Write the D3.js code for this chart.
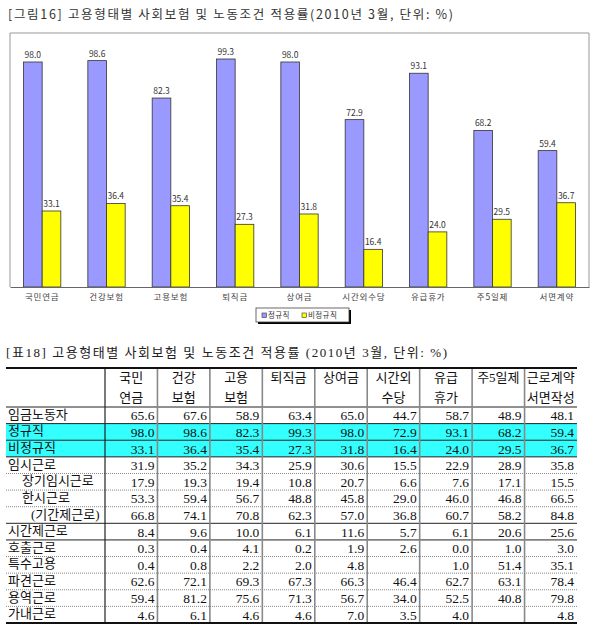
<!DOCTYPE html>
<html>
<head>
<meta charset="utf-8">
<script src="https://cdn.jsdelivr.net/npm/d3@7"></script>
<style>
  body { margin: 0; background: #fff; }
  svg { display: block; }
  .serif { font-family: "Liberation Serif", "Noto Sans CJK KR", serif; }
  .sans { font-family: "Noto Sans CJK KR", "DejaVu Sans", sans-serif; }
</style>
</head>
<body>
<script>
// chart data
var categories = ["국민연금", "건강보험", "고용보험", "퇴직금", "상여금", "시간외수당", "유급휴가", "주5일제", "서면계약"];
var regular    = [98.0, 98.6, 82.3, 99.3, 98.0, 72.9, 93.1, 68.2, 59.4];
var nonRegular = [33.1, 36.4, 35.4, 27.3, 31.8, 16.4, 24.0, 29.5, 36.7];
var seriesNames = ["정규직", "비정규직"];

// table data
var colHeads = [["국민", "연금"], ["건강", "보험"], ["고용", "보험"], ["퇴직금", ""], ["상여금", ""],
                ["시간외", "수당"], ["유급", "휴가"], ["주5일제", ""], ["근로계약", "서면작성"]];
var rowLabels = ["임금노동자", "정규직", "비정규직", "임시근로", "장기임시근로", "한시근로", "(기간제근로)",
                 "시간제근로", "호출근로", "특수고용", "파견근로", "용역근로", "가내근로"];
var rowIndent = [0, 0, 0, 0, 1, 1, 2, 0, 0, 0, 0, 0, 0];
var rowValues = [
  [65.6, 67.6, 58.9, 63.4, 65.0, 44.7, 58.7, 48.9, 48.1],
  [98.0, 98.6, 82.3, 99.3, 98.0, 72.9, 93.1, 68.2, 59.4],
  [33.1, 36.4, 35.4, 27.3, 31.8, 16.4, 24.0, 29.5, 36.7],
  [31.9, 35.2, 34.3, 25.9, 30.6, 15.5, 22.9, 28.9, 35.8],
  [17.9, 19.3, 19.4, 10.8, 20.7, 6.6, 7.6, 17.1, 15.5],
  [53.3, 59.4, 56.7, 48.8, 45.8, 29.0, 46.0, 46.8, 66.5],
  [66.8, 74.1, 70.8, 62.3, 57.0, 36.8, 60.7, 58.2, 84.8],
  [8.4, 9.6, 10.0, 6.1, 11.6, 5.7, 6.1, 20.6, 25.6],
  [0.3, 0.4, 4.1, 0.2, 1.9, 2.6, 0.0, 1.0, 3.0],
  [0.4, 0.8, 2.2, 2.0, 4.8, null, 1.0, 51.4, 35.1],
  [62.6, 72.1, 69.3, 67.3, 66.3, 46.4, 62.7, 63.1, 78.4],
  [59.4, 81.2, 75.6, 71.3, 56.7, 34.0, 52.5, 40.8, 79.8],
  [4.6, 6.1, 4.6, 4.6, 7.0, 3.5, 4.0, null, 4.8]
];
var highlightRows = [1, 2];
// line under each row: s = solid, d = dotted
var rowRule = ["s", "s", "s", "d", "d", "d", "s", "s", "d", "d", "d", "d", "s"];

var svg = d3.select("body").append("svg")
    .attr("width", 598)
    .attr("height", 642);

// ---------------- chart ----------------
svg.append("text")
    .attr("class", "sans")
    .attr("x", 8).attr("y", 19)
    .attr("font-size", 12.5)
    .attr("fill", "#333")
    .attr("textLength", 445)
    .attr("lengthAdjust", "spacing")
    .text("[그림16] 고용형태별 사회보험 및 노동조건 적용률(2010년 3월, 단위: %)");

var plot = {left: 10, right: 589, top: 33, bottom: 287};

var x0 = d3.scaleBand()
    .domain(categories)
    .range([plot.left, plot.right])
    .paddingInner(0.42)
    .paddingOuter(0.21);
var x1 = d3.scaleBand()
    .domain(seriesNames)
    .range([0, x0.bandwidth()]);
var y = d3.scaleLinear().domain([0, 100]).range([plot.bottom, 57.4]);
var colour = d3.scaleOrdinal().domain(seriesNames).range(["#9999ff", "#ffff00"]);

// plot frame (left, top, right)
svg.append("path")
    .attr("d", "M" + plot.left + "," + plot.bottom + "V" + plot.top + "H" + plot.right + "V" + plot.bottom)
    .attr("fill", "none")
    .attr("stroke", "#999")
    .attr("stroke-width", 1);

var groups = svg.selectAll(".cat")
    .data(categories.map(function(c, i) { return {cat: c, vals: [regular[i], nonRegular[i]]}; }))
    .enter().append("g")
      .attr("class", "cat")
      .attr("transform", function(d) { return "translate(" + x0(d.cat) + ",0)"; });

groups.selectAll("rect")
    .data(function(d) { return d.vals.map(function(v, j) { return {s: seriesNames[j], v: v}; }); })
    .enter().append("rect")
      .attr("x", function(d) { return x1(d.s); })
      .attr("y", function(d) { return y(d.v); })
      .attr("width", x1.bandwidth())
      .attr("height", function(d) { return plot.bottom - y(d.v); })
      .attr("fill", function(d) { return colour(d.s); })
      .attr("stroke", "#333")
      .attr("stroke-width", 0.8);

groups.selectAll(".val")
    .data(function(d) { return d.vals.map(function(v, j) { return {s: seriesNames[j], v: v}; }); })
    .enter().append("text")
      .attr("class", "val sans")
      .attr("x", function(d) { return x1(d.s) + x1.bandwidth() / 2; })
      .attr("y", function(d) { return y(d.v) - 4; })
      .attr("text-anchor", "middle")
      .attr("font-size", 8.5)
      .attr("fill", "#333")
      .text(function(d) { return d3.format(".1f")(d.v); });

// baseline + category labels
var xAxis = svg.append("g")
    .attr("transform", "translate(0," + plot.bottom + ")")
    .call(d3.axisBottom(x0).tickSize(0).tickPadding(7));
xAxis.select(".domain").attr("stroke", "#666").attr("stroke-width", 1.2);
xAxis.selectAll("text")
    .attr("class", "sans")
    .attr("font-size", 8.5)
    .attr("letter-spacing", 0.8)
    .attr("fill", "#444");

// legend
var lg = svg.append("g").attr("transform", "translate(256,308)");
lg.append("rect").attr("x", 2).attr("y", 2).attr("width", 93).attr("height", 14).attr("fill", "#000");
lg.append("rect").attr("width", 93).attr("height", 14).attr("fill", "#fff").attr("stroke", "#444").attr("stroke-width", 0.8);
var lgItems = lg.selectAll(".li")
    .data(seriesNames)
    .enter().append("g")
      .attr("transform", function(d, i) { return "translate(" + (6 + i * 40) + ",0)"; });
lgItems.append("rect")
    .attr("x", 0).attr("y", 5).attr("width", 4.5).attr("height", 4.5)
    .attr("fill", function(d) { return colour(d); })
    .attr("stroke", "#333").attr("stroke-width", 0.6);
lgItems.append("text")
    .attr("class", "sans")
    .attr("x", 6).attr("y", 10)
    .attr("font-size", 7.5)
    .attr("letter-spacing", 0.4)
    .attr("fill", "#333")
    .text(function(d) { return d; });

// ---------------- table ----------------
svg.append("text")
    .attr("class", "serif")
    .attr("x", 6).attr("y", 357)
    .attr("font-size", 13)
    .attr("fill", "#222")
    .attr("textLength", 441)
    .attr("lengthAdjust", "spacing")
    .text("[표18] 고용형태별 사회보험 및 노동조건 적용률 (2010년 3월, 단위: %)");

var tbl = {left: 6, right: 577, top: 368, headBottom: 407, bottom: 623, labelRight: 105};

var cx = d3.scaleBand()
    .domain(d3.range(colHeads.length))
    .range([tbl.labelRight, tbl.right]);
var ry = d3.scaleBand()
    .domain(d3.range(rowLabels.length))
    .range([tbl.headBottom, tbl.bottom]);

// highlighted rows
svg.selectAll(".hl")
    .data(highlightRows)
    .enter().append("rect")
      .attr("x", tbl.left)
      .attr("y", function(i) { return ry(i); })
      .attr("width", tbl.right - tbl.left)
      .attr("height", ry.bandwidth())
      .attr("fill", "#33ffff");

// header text
var heads = svg.selectAll(".hd")
    .data(colHeads)
    .enter().append("g")
      .attr("transform", function(d, i) { return "translate(" + (cx(i) + cx.bandwidth() / 2) + ",0)"; });
heads.selectAll("text")
    .data(function(d) { return d; })
    .enter().append("text")
      .attr("class", "serif")
      .attr("y", function(d, j) { return 382 + j * 20; })
      .attr("text-anchor", "middle")
      .attr("font-size", 13)
      .attr("fill", "#111")
      .text(function(d) { return d; });

// row labels
svg.selectAll(".rl")
    .data(rowLabels)
    .enter().append("text")
      .attr("class", "serif")
      .attr("x", function(d, i) { return 8 + [0, 14, 23][rowIndent[i]]; })
      .attr("y", function(d, i) { return ry(i) + ry.bandwidth() / 2 + 3.5; })
      .attr("font-size", 13)
      .attr("fill", "#111")
      .text(function(d) { return d; });

// cell values
rowValues.forEach(function(row, i) {
  svg.selectAll(".cell" + i)
    .data(row)
    .enter().append("text")
      .attr("class", "serif")
      .attr("x", function(d, j) { return cx(j) + cx.bandwidth() - 3; })
      .attr("y", ry(i) + ry.bandwidth() / 2 + 5)
      .attr("text-anchor", "end")
      .attr("font-size", 13.5)
      .attr("fill", "#111")
      .text(function(d) { return d == null ? "" : d3.format(".1f")(d); });
});

// horizontal rules
svg.selectAll(".hr")
    .data(rowRule.slice(0, -1))
    .enter().append("line")
      .attr("x1", tbl.left).attr("x2", tbl.right)
      .attr("y1", function(d, i) { return ry(i) + ry.bandwidth(); })
      .attr("y2", function(d, i) { return ry(i) + ry.bandwidth(); })
      .attr("stroke", function(d) { return d === "s" ? "#222" : "#888"; })
      .attr("stroke-width", 1)
      .attr("stroke-dasharray", function(d) { return d === "s" ? null : "1,1"; });

svg.append("line")
    .attr("x1", tbl.left).attr("x2", tbl.right)
    .attr("y1", tbl.headBottom).attr("y2", tbl.headBottom)
    .attr("stroke", "#222").attr("stroke-width", 1);

// vertical rules
svg.selectAll(".vr")
    .data(d3.range(1, colHeads.length))
    .enter().append("line")
      .attr("x1", function(j) { return cx(j); })
      .attr("x2", function(j) { return cx(j); })
      .attr("y1", tbl.top).attr("y2", tbl.bottom)
      .attr("stroke", "#888")
      .attr("stroke-width", 1.6);

svg.append("line")
    .attr("x1", tbl.labelRight).attr("x2", tbl.labelRight)
    .attr("y1", tbl.top).attr("y2", tbl.bottom)
    .attr("stroke", "#222").attr("stroke-width", 1.2);

// top and bottom thick rules
[tbl.top, tbl.bottom].forEach(function(yy) {
  svg.append("line")
    .attr("x1", tbl.left).attr("x2", tbl.right)
    .attr("y1", yy).attr("y2", yy)
    .attr("stroke", "#111").attr("stroke-width", 2.2);
});
</script>
</body>
</html>
